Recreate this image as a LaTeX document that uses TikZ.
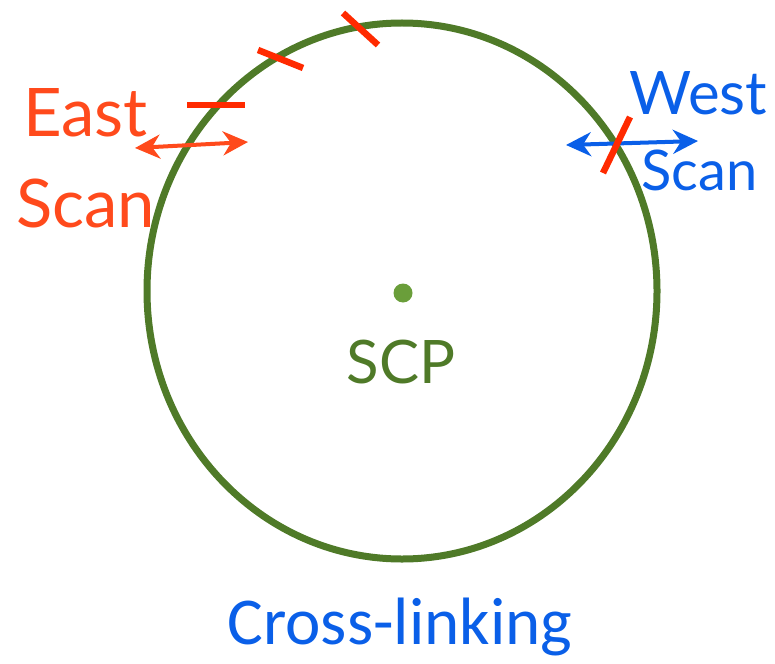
\documentclass[tikz,border=0pt]{standalone}
\usepackage{fontspec}
\setmainfont{Lato}
\newfontfamily\captionfont{Carlito}
\usetikzlibrary{arrows.meta}
\definecolor{ringgreen}{HTML}{4F7A28}
\definecolor{dotgreen}{HTML}{6A9E3A}
\definecolor{markred}{HTML}{FF2A00}
\definecolor{eastred}{HTML}{FF4A1C}
\definecolor{westblue}{HTML}{0A5FE8}
\tikzset{
  ring/.style={draw=ringgreen, line width=7pt},
  tick/.style={draw=markred, line width=6.5pt},
  scanarrow/.style={line width=4pt,
    arrows={Stealth[length=25pt,width=24pt,inset=8pt]-Stealth[length=25pt,width=24pt,inset=8pt]}},
  label/.style={inner sep=0pt, anchor=base west},
  bigfont/.style={font=\fontsize{67}{67}\selectfont},
  smallfont/.style={font=\fontsize{60}{60}\selectfont},
}
\begin{document}
\begin{tikzpicture}[x=1pt,y=-1pt]
\useasboundingbox (0,0) rectangle (775,663);
% scan circle around the pole
\draw[ring] (402,291) ellipse [x radius=255, y radius=268];
\fill[dotgreen] (403,293) circle (9.5);
\node[label, smallfont, text=ringgreen, anchor=base] (scp) at (401,383) {SCP};
% east scan positions
\coordinate (t1a) at (343,13);  \coordinate (t1b) at (378,45);
\coordinate (t2a) at (258,50);  \coordinate (t2b) at (303,68);
\coordinate (t3a) at (187,105); \coordinate (t3b) at (245,105);
\draw[tick] (t1a) -- (t1b);
\draw[tick] (t2a) -- (t2b);
\draw[tick] (t3a) -- (t3b);
\coordinate (ea) at (135,148); \coordinate (eb) at (248,142);
\draw[scanarrow, draw=eastred] (ea) -- (eb);
\node[label, bigfont, text=eastred] (east) at (23,137) {East};
\node[label, bigfont, text=eastred] (escan) at (16,227) {Scan};
% west scan position
\coordinate (wa) at (566,145); \coordinate (wb) at (698,141);
\draw[scanarrow, draw=westblue] (wa) -- (wb);
\coordinate (t4a) at (630,117); \coordinate (t4b) at (603,173);
\draw[tick] (t4a) -- (t4b);
\node[label, smallfont, text=westblue] (west) at (629,115) {West};
\node[label, text=westblue, font=\fontsize{56}{56}\selectfont] (wscan) at (641,190) {Scan};
% caption
\node[inner sep=0pt, anchor=base, text=westblue, font=\captionfont\fontsize{67}{67}\selectfont] (cap) at (400,644) {Cross-linking};
\end{tikzpicture}
\end{document}
